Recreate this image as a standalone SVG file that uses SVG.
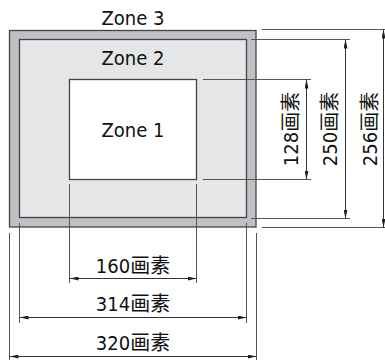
<svg xmlns="http://www.w3.org/2000/svg" width="385" height="360" viewBox="0 0 385 360">
<style>
text{font-family:"DejaVu Sans Condensed","DejaVu Sans","Noto Sans CJK SC",sans-serif;font-size:20px;fill:#111;text-anchor:middle}
.ext{stroke:#555;stroke-width:1;fill:none}
.dim{stroke:#333;stroke-width:1;fill:none;marker-start:url(#ah);marker-end:url(#ah)}
.zone{stroke:#444;stroke-width:1.3}
</style>
<defs>
<marker id="ah" viewBox="0 0 9 4" refX="9" refY="2" markerWidth="9" markerHeight="4" markerUnits="userSpaceOnUse" orient="auto-start-reverse">
<path d="M0,0 L9,2 L0,4 z" fill="#222"/>
</marker>
</defs>
<g id="zone3">
<rect class="zone" x="9.5" y="30.5" width="246.5" height="196.5" fill="#c0c1c4"/>
<text x="133" y="25">Zone 3</text>
</g>
<g id="zone2">
<rect class="zone" x="19.5" y="39.5" width="227" height="178" fill="#e5e6e8"/>
<text x="133" y="65">Zone 2</text>
</g>
<g id="zone1">
<rect class="zone" x="69.5" y="79.5" width="127" height="100" fill="#ffffff"/>
<text x="133" y="137">Zone 1</text>
</g>
<g id="connectors">
<line class="ext" x1="69.5" y1="184" x2="69.5" y2="283"/>
<line class="ext" x1="196.5" y1="184" x2="196.5" y2="283"/>
<line class="dim" x1="69.5" y1="278.5" x2="196.5" y2="278.5"/>
<line class="ext" x1="19.5" y1="223" x2="19.5" y2="323"/>
<line class="ext" x1="246.5" y1="223" x2="246.5" y2="323"/>
<line class="dim" x1="19.5" y1="317.5" x2="246.5" y2="317.5"/>
<line class="ext" x1="9.5" y1="233" x2="9.5" y2="360"/>
<line class="ext" x1="256.5" y1="233" x2="256.5" y2="360"/>
<line class="dim" x1="9.5" y1="356.5" x2="256.5" y2="356.5"/>
<line class="ext" x1="203" y1="79.5" x2="311" y2="79.5"/>
<line class="ext" x1="203" y1="179.5" x2="311" y2="179.5"/>
<line class="dim" x1="306.5" y1="79.5" x2="306.5" y2="179.5"/>
<line class="ext" x1="251" y1="39.5" x2="350" y2="39.5"/>
<line class="ext" x1="251" y1="218.5" x2="350" y2="218.5"/>
<line class="dim" x1="345.5" y1="39.5" x2="345.5" y2="218.5"/>
<line class="ext" x1="262" y1="29.5" x2="385" y2="29.5"/>
<line class="ext" x1="262" y1="227.5" x2="385" y2="227.5"/>
<line class="dim" x1="383.5" y1="29.5" x2="383.5" y2="227.5"/>
</g>
<g id="labels">
<text x="133" y="273">160画素</text>
<text x="133" y="311">314画素</text>
<text x="133" y="350">320画素</text>
<text transform="translate(298,129) rotate(-90)">128画素</text>
<text transform="translate(337,129) rotate(-90)">250画素</text>
<text transform="translate(377,129) rotate(-90)">256画素</text>
</g>
</svg>
